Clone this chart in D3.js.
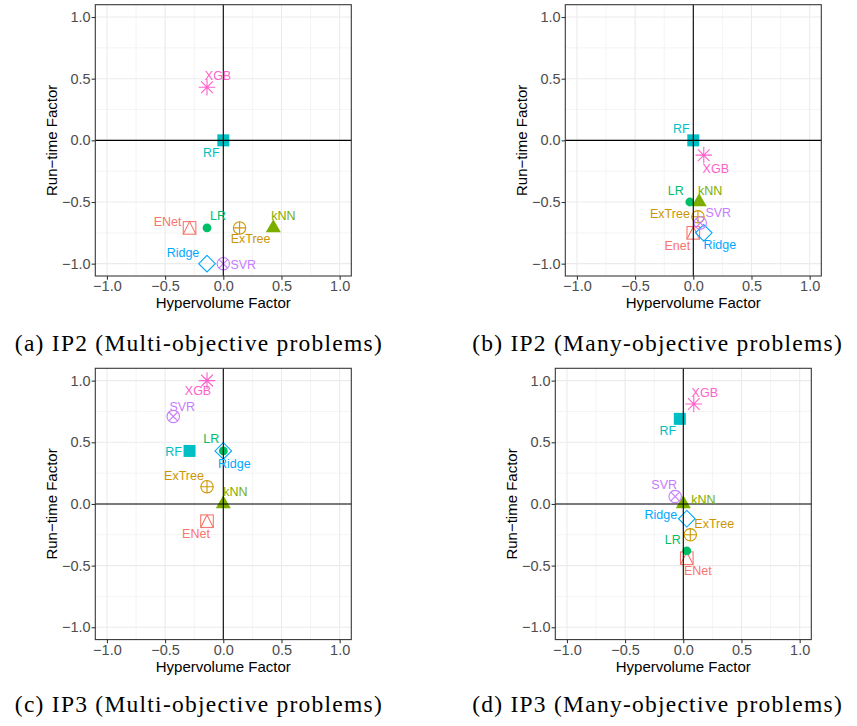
<!DOCTYPE html>
<html>
<head>
<meta charset="utf-8">
<script src="https://cdn.jsdelivr.net/npm/d3@7"></script>
<style>
body { margin: 0; background: #fff; }
</style>
</head>
<body>
<div id="chart_area"></div>
<script>

// models, in the order used for every array below
var models = ["ENet", "ExTree", "kNN", "LR", "RF", "Ridge", "SVR", "XGB"];
var names_a = ["ENet", "ExTree", "kNN", "LR", "RF", "Ridge", "SVR", "XGB"];
var names_b = ["Enet", "ExTree", "kNN", "LR", "RF", "Ridge", "SVR", "XGB"];

// (a) IP2 multi-objective
var hv_a = [-0.29, 0.14, 0.43, -0.14, 0.00, -0.14, 0.00, -0.14];
var rt_a = [-0.71, -0.71, -0.71, -0.71, 0.00, -1.00, -1.00, 0.43];
// (b) IP2 many-objective
var hv_b = [0.00, 0.04, 0.05, -0.03, 0.00, 0.09, 0.06, 0.09];
var rt_b = [-0.75, -0.62, -0.50, -0.50, 0.00, -0.75, -0.67, -0.12];
// (c) IP3 multi-objective
var hv_c = [-0.14, -0.14, 0.00, 0.00, -0.29, 0.00, -0.43, -0.14];
var rt_c = [-0.14, 0.14, 0.00, 0.43, 0.43, 0.43, 0.71, 1.00];
// (d) IP3 many-objective
var hv_d = [0.03, 0.06, 0.00, 0.03, -0.03, 0.03, -0.07, 0.09];
var rt_d = [-0.44, -0.25, 0.00, -0.38, 0.69, -0.12, 0.06, 0.81];

var captions = ["(a) IP2 (Multi-objective problems)", "(b) IP2 (Many-objective problems)",
                "(c) IP3 (Multi-objective problems)", "(d) IP3 (Many-objective problems)"];
var majorTicks = [-1, -0.5, 0, 0.5, 1];
var minorTicks = [-0.75, -0.25, 0.25, 0.75];

// styling / layout (not data)
var colours = ["#F8766D", "#CD9600", "#7CAE00", "#00BE67", "#00BFC4", "#00A9FF", "#C77CFF", "#FF61CC"];
var shapes = ["squareTriangle", "circlePlus", "triangle", "dot", "square", "diamond", "circleCross", "asterisk"];
// label offsets in px (text centre relative to point), like ggrepel placed them
var nudge_a = [[-22,-6],[11,11],[10,-12],[11,-12],[-12,12],[-24,-11],[20,1],[11,-12]];
var nudge_b = [[-16,13],[-28,-3],[11,-11],[-14,-11],[-12,-12],[16,12],[18,-10],[12,13]];
var nudge_c = [[-11,12],[-23,-11],[12,-12],[-12,-12],[-16,1],[11,13],[9,-10],[-9,10]];
var nudge_d = [[11,12],[24,-11],[20,-4],[-14,-11],[-12,12],[-26,-4],[-11,-12],[11,-11]];

var panels = [
	{hv: hv_a, rt: rt_a, names: names_a, nudge: nudge_a, left: 95.3, top: 4.7, capX: 383, capY: 351},
	{hv: hv_b, rt: rt_b, names: names_b, nudge: nudge_b, left: 565.3, top: 4.7, capX: 843, capY: 351},
	{hv: hv_c, rt: rt_c, names: names_a, nudge: nudge_c, left: 95.3, top: 368.3, capX: 383, capY: 711.5},
	{hv: hv_d, rt: rt_d, names: names_a, nudge: nudge_d, left: 555.3, top: 368.3, capX: 843, capY: 711.5}
];

var frame_width = 857, frame_height = 726;
var canvas_width = 256, canvas_height = 271.3;
var sans = "'Liberation Sans', Arial, Helvetica, sans-serif";

var frame = d3.select("#chart_area").append("svg")
	.attr("width", frame_width)
	.attr("height", frame_height)
	.style("background", "#fff");

var xScale = d3.scaleLinear().domain([-1.1, 1.1]).range([0, canvas_width]);
var yScale = d3.scaleLinear().domain([-1.1, 1.1]).range([canvas_height, 0]);

// draws one R-style point symbol centred at 0,0
function drawShape(g, shape, colour) {
	var sw = 1.1;
	if (shape == "square") {
		g.append("rect").attr("x", -6).attr("y", -6).attr("width", 12).attr("height", 12).attr("fill", colour);
	} else if (shape == "dot") {
		g.append("circle").attr("r", 4.4).attr("fill", colour);
	} else if (shape == "triangle") {
		var R = 5.6;
		g.append("path").attr("d", "M0," + (-1.555 * R) + "L" + (1.347 * R) + "," + (0.778 * R) + "L" + (-1.347 * R) + "," + (0.778 * R) + "Z")
			.attr("fill", colour);
	} else if (shape == "squareTriangle") {
		var h = 6.3;
		g.append("rect").attr("x", -h).attr("y", -h).attr("width", 2 * h).attr("height", 2 * h)
			.attr("fill", "none").attr("stroke", colour).attr("stroke-width", sw);
		g.append("path").attr("d", "M" + (-h) + "," + h + "L0," + (-h) + "L" + h + "," + h)
			.attr("fill", "none").attr("stroke", colour).attr("stroke-width", sw);
	} else if (shape == "circlePlus" || shape == "circleCross") {
		var r = 6.2;
		g.append("circle").attr("r", r).attr("fill", "none").attr("stroke", colour).attr("stroke-width", sw);
		var d = shape == "circlePlus"
			? "M" + (-r) + ",0H" + r + "M0," + (-r) + "V" + r
			: (function () { var k = r * Math.SQRT1_2; return "M" + (-k) + "," + (-k) + "L" + k + "," + k + "M" + (-k) + "," + k + "L" + k + "," + (-k); })();
		g.append("path").attr("d", d).attr("stroke", colour).attr("stroke-width", sw);
	} else if (shape == "diamond") {
		var q = 8.3;
		g.append("path").attr("d", "M0," + (-q) + "L" + q + ",0L0," + q + "L" + (-q) + ",0Z")
			.attr("fill", "none").attr("stroke", colour).attr("stroke-width", sw);
	} else if (shape == "asterisk") {
		var a = 8.3, b = a * Math.SQRT1_2;
		g.append("path").attr("d", "M" + (-a) + ",0H" + a + "M0," + (-a) + "V" + a +
			"M" + (-b) + "," + (-b) + "L" + b + "," + b + "M" + (-b) + "," + b + "L" + b + "," + (-b))
			.attr("stroke", colour).attr("stroke-width", sw);
	}
}

panels.forEach(function (p, pi) {
	var canvas = frame.append("g").attr("transform", "translate(" + p.left + "," + p.top + ")");

	// minor then major grid
	canvas.selectAll(".minor_x").data(minorTicks).enter().append("line")
		.attr("x1", xScale).attr("x2", xScale).attr("y1", 0).attr("y2", canvas_height)
		.attr("stroke", "#EBEBEB").attr("stroke-width", 0.55);
	canvas.selectAll(".minor_y").data(minorTicks).enter().append("line")
		.attr("y1", yScale).attr("y2", yScale).attr("x1", 0).attr("x2", canvas_width)
		.attr("stroke", "#EBEBEB").attr("stroke-width", 0.55);
	canvas.selectAll(".major_x").data(majorTicks).enter().append("line")
		.attr("x1", xScale).attr("x2", xScale).attr("y1", 0).attr("y2", canvas_height)
		.attr("stroke", "#EBEBEB").attr("stroke-width", 1.1);
	canvas.selectAll(".major_y").data(majorTicks).enter().append("line")
		.attr("y1", yScale).attr("y2", yScale).attr("x1", 0).attr("x2", canvas_width)
		.attr("stroke", "#EBEBEB").attr("stroke-width", 1.1);

	// axes
	var xAxis = d3.axisBottom(xScale).tickValues(majorTicks).tickFormat(d3.format(".1f")).tickSize(3.7).tickPadding(1.5);
	var yAxis = d3.axisLeft(yScale).tickValues(majorTicks).tickFormat(d3.format(".1f")).tickSize(3.7).tickPadding(1);
	var gx = canvas.append("g").attr("class", "x axis").attr("transform", "translate(0," + canvas_height + ")").call(xAxis);
	var gy = canvas.append("g").attr("class", "y axis").call(yAxis);
	[gx, gy].forEach(function (ax) {
		ax.select(".domain").remove();
		ax.selectAll(".tick line").attr("stroke", "#333333").attr("stroke-width", 1.07);
		ax.selectAll(".tick text").attr("fill", "#4D4D4D").style("font-family", sans).style("font-size", "14.5px");
	});

	// points
	var data = models.map(function (m, i) {
		return {model: m, name: p.names[i], hv: p.hv[i], rt: p.rt[i], colour: colours[i], shape: shapes[i], nudge: p.nudge[i]};
	});
	data.forEach(function (d) {
		var g = canvas.append("g").attr("transform", "translate(" + xScale(d.hv) + "," + yScale(d.rt) + ")");
		drawShape(g, d.shape, d.colour);
	});

	// zero lines
	canvas.append("line").attr("x1", 0).attr("x2", canvas_width).attr("y1", yScale(0)).attr("y2", yScale(0))
		.attr("stroke", "#000").attr("stroke-width", 1.1);
	canvas.append("line").attr("x1", xScale(0)).attr("x2", xScale(0)).attr("y1", 0).attr("y2", canvas_height)
		.attr("stroke", "#000").attr("stroke-width", 1.1);

	// labels
	canvas.selectAll(".lbl").data(data).enter().append("text")
		.attr("x", function (d) { return xScale(d.hv) + d.nudge[0]; })
		.attr("y", function (d) { return yScale(d.rt) + d.nudge[1] + 4.4; })
		.attr("text-anchor", "middle")
		.attr("fill", function (d) { return d.colour; })
		.style("font-family", sans).style("font-size", "12.5px")
		.text(function (d) { return d.name; });

	// panel border
	canvas.append("rect").attr("width", canvas_width).attr("height", canvas_height)
		.attr("fill", "none").attr("stroke", "#333333").attr("stroke-width", 1.07);

	// axis titles
	canvas.append("text").attr("x", canvas_width / 2).attr("y", canvas_height + 32)
		.attr("text-anchor", "middle").style("font-family", sans).style("font-size", "15px")
		.text("Hypervolume Factor");
	canvas.append("text").attr("transform", "translate(-38.7," + (canvas_height / 2) + ") rotate(-90)")
		.attr("text-anchor", "middle").style("font-family", sans).style("font-size", "15px")
		.text("Run\u2212time Factor");

	// caption
	frame.append("text").attr("x", p.capX).attr("y", p.capY)
		.attr("text-anchor", "end")
		.style("font-family", "'Liberation Serif', 'Times New Roman', serif")
		.style("font-size", "23.5px").style("letter-spacing", "1.25px")
		.text(captions[pi]);
});

</script>
</body>
</html>
